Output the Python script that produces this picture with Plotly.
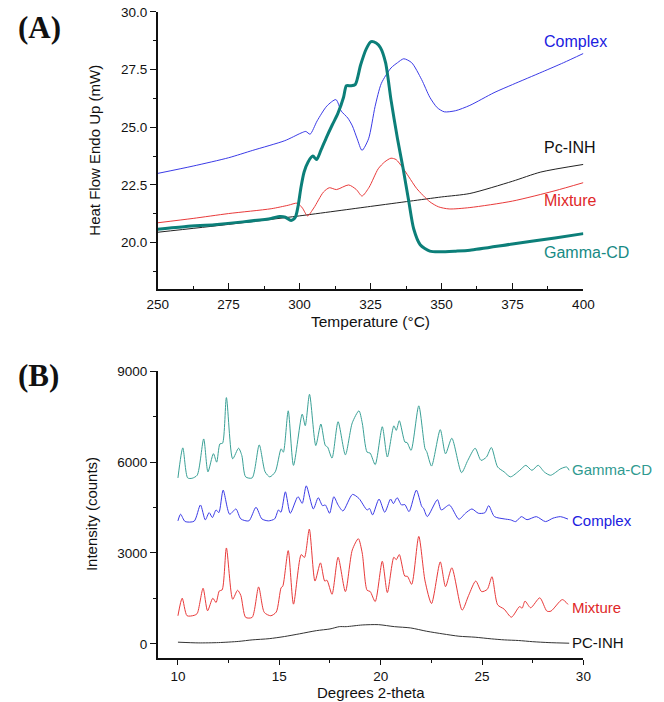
import plotly.graph_objects as go

# ---------------- Panel A (DSC) ----------------
gcd_T = [250, 260, 270, 280, 290, 293, 295, 297, 298.5, 299.5, 300.5, 301.6, 303, 304.7, 306, 307.5,
         309.6, 311.5, 313.5, 315.5, 316.5, 318, 319.6, 321.5, 323.5, 325.2, 327, 328.5, 330.3, 332.2,
         334.5, 336.5, 338.5, 340.2, 342.5, 345.9, 349.3, 355, 360, 375, 390, 400]
gcd_V = [20.58, 20.7, 20.78, 20.9, 21.05, 21.13, 21.1, 20.96, 21.1, 21.6, 22.4, 23.06, 23.5, 23.75, 23.6, 24.0,
         24.6, 25.1, 25.6, 26.3, 26.8, 26.8, 26.85, 27.7, 28.4, 28.71, 28.65, 28.45, 27.8, 26.2,
         24.5, 23.2, 21.77, 20.6, 19.91, 19.63, 19.6, 19.63, 19.67, 19.94, 20.2, 20.39]

cpx_T = [250, 262.5, 275, 283.5, 294.8, 300.5, 302.2, 303.7, 306.2, 309.6, 312.8, 314.7, 317, 318.6, 320.3,
         322, 324.3, 326.6, 328.8, 332.2, 334.5, 336.7, 339.5, 343, 345.9, 348.5, 351, 355, 360, 368.5,
         375, 385.5, 393, 400]
cpx_V = [23.0, 23.32, 23.68, 24.0, 24.42, 24.75, 24.82, 24.7, 25.28, 25.92, 26.2, 25.7, 25.4, 25.06, 24.5,
         24.0, 24.5, 25.9, 26.9, 27.57, 27.8, 27.97, 27.8, 27.07, 26.3, 25.85, 25.67, 25.72, 25.95, 26.5,
         26.85, 27.4, 27.8, 28.2]

mix_T = [250, 262.5, 275, 290, 296, 299.2, 301, 302.8, 305, 308.4, 310.5, 313, 317.3, 320, 322, 324.5,
         327.7, 330, 332.2, 334, 336.2, 338.5, 341.3, 345.9, 349, 352.7, 360, 375, 390, 400]
mix_V = [20.86, 21.05, 21.26, 21.47, 21.62, 21.71, 21.5, 21.16, 21.5, 22.19, 22.38, 22.3, 22.5, 22.3, 22.02, 22.4,
         23.2, 23.5, 23.66, 23.6, 23.27, 22.85, 22.34, 21.77, 21.55, 21.46, 21.52, 21.8, 22.25, 22.6]

pc_T = [250, 275, 300, 325, 339, 350, 360, 375, 385, 400]
pc_V = [20.45, 20.79, 21.16, 21.57, 21.8, 21.98, 22.13, 22.66, 23.06, 23.39]

# ---------------- Panel B (XRD) ----------------
xg_t = [10, 10.24, 10.48, 10.7, 10.95, 11.27, 11.48, 11.75, 11.91, 12.07, 12.2, 12.39, 12.7, 12.99, 13.15,
        13.34, 13.66, 14.01, 14.3, 14.53, 14.8, 15.09, 15.2, 15.44, 15.7, 16.13, 16.28, 16.49, 16.8, 17.05,
        17.27, 17.38, 17.6, 17.9, 18.26, 18.6, 18.93, 19.09, 19.33, 19.48, 19.73, 20.08, 20.33, 20.65, 20.77,
        20.92, 21.2, 21.3, 21.5, 21.88, 22.19, 22.27, 22.51, 22.94, 23.2, 23.51, 23.99, 24.3, 24.66, 24.95,
        25.22, 25.46, 25.77, 26.09, 26.4, 26.86, 27.16, 27.46, 27.77, 28.07, 28.38, 28.89, 29.18, 29.3]
xg_i = [5479, 6472, 5479, 5468, 5570, 6767, 5680, 6280, 6000, 6604, 6625, 8132, 6112, 6460, 6223,
        5514, 5479, 6570, 5680, 5514, 5680, 6440, 6330, 7696, 5894, 7587, 7204, 8241, 6549, 7259,
        6549, 6500, 6134, 7335, 6242, 7300, 7696, 7300, 6330, 6300, 5920, 7170, 6170, 7200, 7050,
        7368, 6660, 6650, 6390, 7860, 6440, 6350, 5870, 7073, 6276, 6790, 5655, 6060, 6460, 6060,
        6170, 6483, 5840, 5680, 5514, 5730, 5895, 5730, 5895, 5676, 5567, 5785, 5840, 5730]

xc_t = [10, 10.13, 10.35, 10.8, 11.11, 11.35, 11.54, 11.7, 11.88, 12.02, 12.23, 12.55, 12.86, 13.1, 13.5,
        13.85, 14.14, 14.46, 14.77, 14.96, 15.08, 15.3, 15.54, 15.92, 16.13, 16.33, 16.68, 16.92, 17.13, 17.27,
        17.48, 17.69, 17.9, 18.14, 18.61, 18.93, 19.33, 19.45, 19.6, 19.92, 20.2, 20.49, 20.63, 20.81, 21.03,
        21.19, 21.4, 21.76, 22.03, 22.11, 22.3, 22.8, 22.99, 23.39, 23.86, 24.18, 24.5, 24.82, 25.14, 25.33,
        25.61, 26.09, 26.41, 26.66, 26.94, 27.22, 27.68, 28.13, 28.5, 28.87, 29.24]
xc_i = [4061, 4280, 4040, 4050, 4586, 4094, 4334, 4170, 4421, 4334, 5076, 4280, 4454, 4126, 4061,
        4509, 4126, 4061, 4126, 4421, 4345, 5021, 4312, 4858, 4640, 5218, 4454, 4826, 4563, 4585,
        4312, 4858, 4585, 4389, 4934, 4800, 4421, 4470, 4258, 4781, 4345, 4781, 4630, 4826, 4585,
        4600, 4367, 5076, 4530, 4480, 4203, 4760, 4421, 4585, 4115, 4312, 4454, 4312, 4330, 4563,
        4203, 4126, 4094, 4037, 4200, 4100, 4200, 4037, 4150, 4200, 4120]

xm_t = [10, 10.21, 10.45, 10.8, 10.95, 11.24, 11.46, 11.72, 11.88, 12.04, 12.18, 12.39, 12.7, 12.94, 13.1,
        13.34, 13.66, 13.98, 14.26, 14.58, 14.85, 15.09, 15.17, 15.44, 15.7, 16.08, 16.24, 16.48, 16.76, 17.03,
        17.24, 17.35, 17.6, 17.9, 18.26, 18.6, 18.9, 19.09, 19.33, 19.48, 19.73, 20.08, 20.33, 20.65, 20.77,
        20.92, 21.19, 21.32, 21.53, 21.88, 22.19, 22.51, 22.94, 23.2, 23.51, 24.02, 24.34, 24.69, 24.98, 25.26,
        25.49, 25.77, 26.09, 26.45, 26.85, 26.98, 27.12, 27.4, 27.85, 28.2, 28.4, 28.96, 29.24]
xm_i = [927, 1506, 927, 940, 1000, 1834, 1091, 1506, 1364, 1746, 1780, 3166, 1473, 1768, 1600,
        873, 873, 1877, 1036, 927, 1050, 1855, 1900, 3078, 1310, 2947, 2850, 3788, 2073, 2674,
        2073, 2100, 1637, 2860, 1724, 3100, 3471, 3000, 1768, 1730, 1397, 2728, 1692, 2860, 2780,
        2947, 2237, 2230, 1964, 3547, 2073, 1331, 2707, 1888, 2510, 1113, 1600, 2073, 1724, 1800,
        2215, 1288, 1146, 880, 1228, 1180, 1410, 1190, 1518, 1080, 1080, 1460, 1300]

xp_t = [10, 11, 12, 13, 13.66, 14.5, 15.25, 16, 16.84, 17.5, 17.96, 18.3, 19.09, 19.89, 20.68, 21.48,
        22.27, 23.07, 23.86, 24.66, 25.46, 26.1, 26.8, 27.5, 28.3, 29.3]
xp_i = [54, 30, 40, 80, 130, 170, 240, 330, 436, 491, 567, 567, 622, 633, 567, 524,
        415, 327, 251, 218, 164, 130, 109, 70, 40, 20]

W, H = 664, 702
BLUE = "#3b3be6"
RED = "#e83a3a"
TEAL_A = "#0c7f79"
TEAL_B = "#3aa096"
FONT = "Liberation Sans, Arial, sans-serif"

fig = go.Figure()
sm = dict(shape="spline", smoothing=0.7)
fig.add_trace(go.Scatter(x=pc_T, y=pc_V, mode="lines", line=dict(color="#222222", width=1, **sm), xaxis="x", yaxis="y"))
fig.add_trace(go.Scatter(x=mix_T, y=mix_V, mode="lines", line=dict(color=RED, width=1, **sm), xaxis="x", yaxis="y"))
fig.add_trace(go.Scatter(x=cpx_T, y=cpx_V, mode="lines", line=dict(color=BLUE, width=1, **sm), xaxis="x", yaxis="y"))
fig.add_trace(go.Scatter(x=gcd_T, y=gcd_V, mode="lines", line=dict(color=TEAL_A, width=3, **sm), xaxis="x", yaxis="y"))

fig.add_trace(go.Scatter(x=xp_t, y=xp_i, mode="lines", line=dict(color="#333333", width=1, **sm), xaxis="x2", yaxis="y2"))
fig.add_trace(go.Scatter(x=xm_t, y=xm_i, mode="lines", line=dict(color=RED, width=1, **sm), xaxis="x2", yaxis="y2"))
fig.add_trace(go.Scatter(x=xc_t, y=xc_i, mode="lines", line=dict(color=BLUE, width=1, **sm), xaxis="x2", yaxis="y2"))
fig.add_trace(go.Scatter(x=xg_t, y=xg_i, mode="lines", line=dict(color=TEAL_B, width=1, **sm), xaxis="x2", yaxis="y2"))

xdom = [151.7 / W, 592 / W]
tickfont = dict(family=FONT, size=13.5, color="#111111")
axcommon = dict(showgrid=False, zeroline=False, showline=True, linecolor="#111111", linewidth=1.5,
                tickcolor="#111111", tickwidth=1.2, tickfont=tickfont)

fig.update_layout(
    width=W, height=H, margin=dict(l=0, r=0, t=0, b=0),
    paper_bgcolor="white", plot_bgcolor="white", showlegend=False,
    xaxis=dict(domain=xdom, range=[250, 400], dtick=25, tick0=250, ticks="inside", ticklen=6,
               ticklabelstandoff=2, anchor="y",
               minor=dict(dtick=12.5, ticks="inside", ticklen=3, tickcolor="#111111"), **axcommon),
    yaxis=dict(domain=[1 - 284.6 / H, 1 - 5 / H], range=[18, 30], dtick=2.5, tick0=20, tickformat=".1f",
               ticks="outside", ticklen=6, anchor="x",
               minor=dict(dtick=1.25, ticks="outside", ticklen=3, tickcolor="#111111"), **axcommon),
    xaxis2=dict(domain=xdom, range=[9, 30], dtick=5, tick0=10, ticks="outside", ticklen=5, anchor="y2",
                minor=dict(dtick=2.5, ticks="outside", ticklen=3, tickcolor="#111111"), **axcommon),
    yaxis2=dict(domain=[1 - 657.6 / H, 1 - 368 / H], range=[-470, 9000], dtick=3000, tick0=0,
                ticks="outside", ticklen=6, anchor="x2",
                minor=dict(dtick=1500, ticks="outside", ticklen=3, tickcolor="#111111"), **axcommon),
)


def ann(text, px, py, size=16, color="#111111", xanchor="left", family=FONT, angle=0, bold=False,
        yanchor="middle"):
    fig.add_annotation(text=("<b>%s</b>" % text) if bold else text, x=px / W, y=1 - py / H,
                       xref="paper", yref="paper", showarrow=False, xanchor=xanchor, yanchor=yanchor,
                       textangle=angle, font=dict(family=family, size=size, color=color),
                       borderpad=0)


# panel letters
ann("(A)", 6, 21, size=31, family="Liberation Serif, Times New Roman, serif", bold=True)
ann("(B)", 6, 372, size=31, family="Liberation Serif, Times New Roman, serif", bold=True)

# axis titles
ann("Temperature (°C)", 372, 318, size=15.5, xanchor="center")
ann("Heat Flow Endo Up (mW)", 86, 145, size=15, xanchor="center", angle=-90)
ann("Degrees 2-theta", 372, 692, size=15, xanchor="center")
ann("Intensity (counts)", 84, 512, size=15, xanchor="center", angle=-90)

# series labels, panel A
ann("Complex", 550, 35, color="#2020e0")
ann("Pc-INH", 550, 142, color="#111111")
ann("Mixture", 550, 195, color="#e02828")
ann("Gamma-CD", 550, 248, color="#178a84")

# series labels, panel B
ann("Gamma-CD", 579, 467, size=15, color="#2f9a90")
ann("Complex", 579, 519, size=15, color="#2020e0")
ann("Mixture", 579, 607, size=15, color="#e02828")
ann("PC-INH", 579, 642, size=15, color="#111111")

# remove the default page margin so the 664x702 figure fills the window exactly
fig.write_html("out.html",
               config={"displayModeBar": False},
               post_script="document.body.style.margin='0';document.body.style.padding='0';"
                           "document.body.style.overflow='hidden';")
